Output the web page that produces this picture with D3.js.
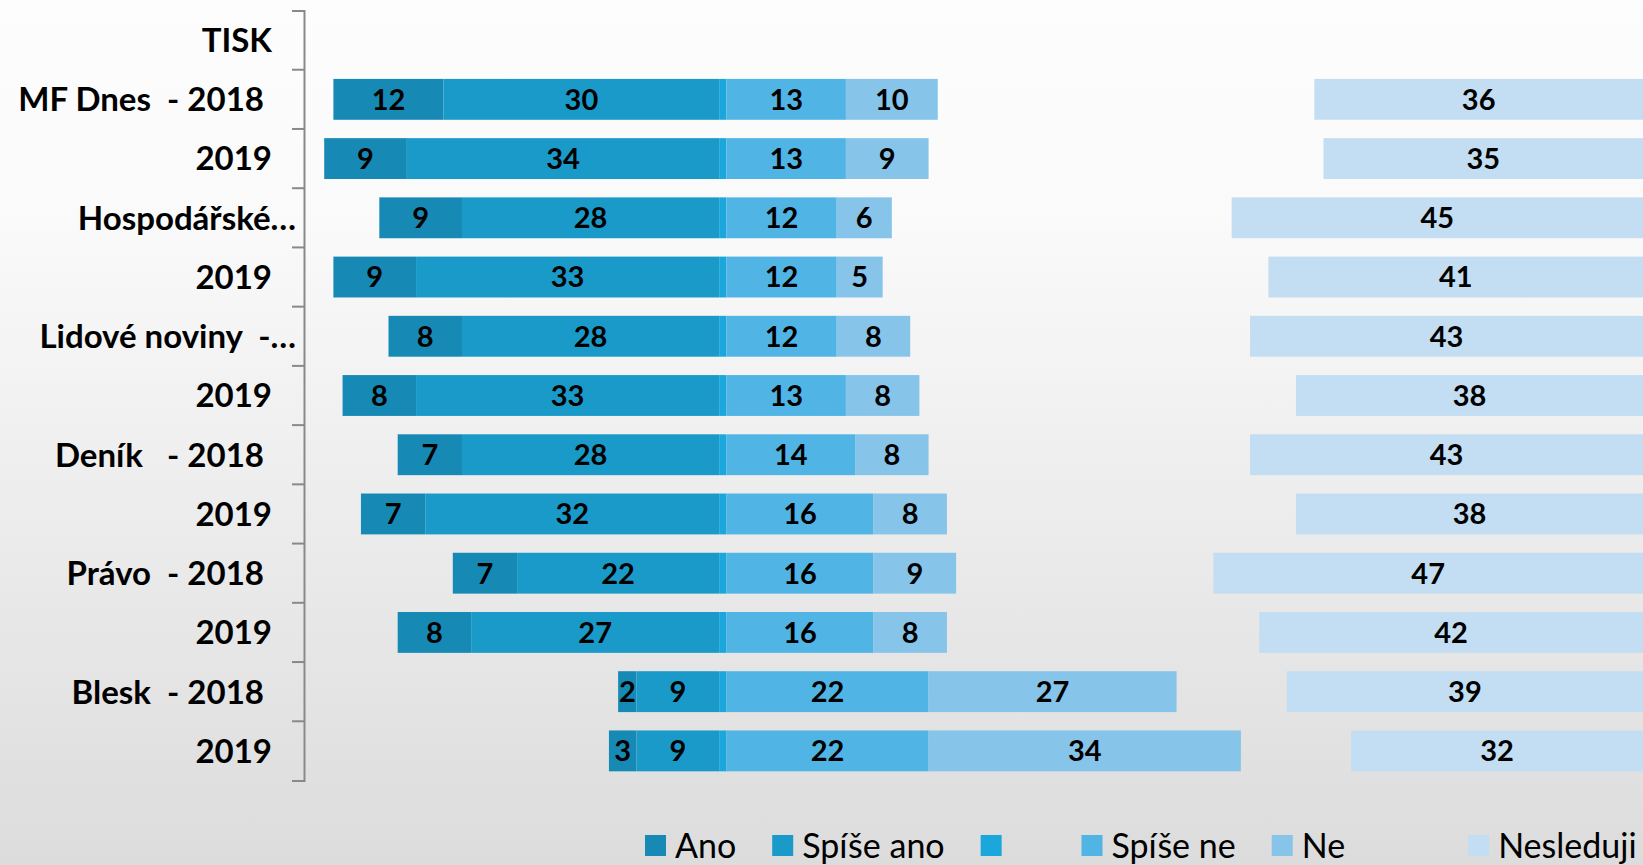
<!DOCTYPE html>
<html>
<head>
<meta charset="utf-8">
<script src="https://cdn.jsdelivr.net/npm/d3@7"></script>
<style>
  html, body { margin: 0; padding: 0; overflow: hidden; }
  text { font-family: Lato, "Open Sans", sans-serif; white-space: pre; }
</style>
</head>
<body>
<div id="chart"></div>
<script>
// row labels (first row is the group header, it has no bars)
const categories = ["TISK   ", "MF Dnes  - 2018    ", "2019   ", "Hospodářské…", "2019   ",
  "Lidové noviny  -…", "2019   ", "Deník   - 2018    ", "2019   ",
  "Právo  - 2018    ", "2019   ", "Blesk  - 2018    ", "2019   "];

// values per data row (MF 2018 ... Blesk 2019)
const ano       = [12, 9, 9, 9, 8, 8, 7, 7, 7, 8, 2, 3];
const spiseAno  = [30, 34, 28, 33, 28, 33, 28, 32, 22, 27, 9, 9];
const stred     = [0.8, 0.8, 0.8, 0.8, 0.8, 0.8, 0.8, 0.8, 0.8, 0.8, 0.8, 0.8];
const spiseNe   = [13, 13, 12, 12, 12, 13, 14, 16, 16, 16, 22, 22];
const ne        = [10, 9, 6, 5, 8, 8, 8, 8, 9, 8, 27, 34];
const nesleduji = [36, 35, 45, 41, 43, 38, 43, 38, 47, 42, 39, 32];

const seriesNames = ["Ano", "Spíše ano", "    ", "Spíše ne", "Ne          ", "Nesleduji"];
const colors = ["#1789b5", "#1a9ac9", "#1ba7dc", "#50b4e5", "#86c4ea", "#c3def2"];

const W = 1643, H = 865;

const svg = d3.select("#chart").append("svg")
  .attr("width", W)
  .attr("height", H);

// background gradient
const grad = svg.append("defs").append("linearGradient")
  .attr("id", "bg").attr("x1", 0).attr("y1", 0).attr("x2", 0).attr("y2", 1);
grad.append("stop").attr("offset", "0%").attr("stop-color", "#fdfdfd");
grad.append("stop").attr("offset", "25%").attr("stop-color", "#fafafa");
grad.append("stop").attr("offset", "100%").attr("stop-color", "#dcdcdc");
svg.append("rect").attr("width", W).attr("height", H).attr("fill", "url(#bg)");

const x = d3.scaleLinear().domain([-46, 100]).range([304, 1645]);
const y = d3.scaleBand().domain(d3.range(categories.length)).range([10.5, 780.5]);
const barH = y.bandwidth() * 0.69;

// build segments
const segs = [];
ano.forEach((a, i) => {
  const row = i + 1;
  const left = a + spiseAno[i] + stred[i];
  const parts = [
    {k: 0, x0: -left, x1: -left + a, v: a},
    {k: 1, x0: -left + a, x1: -stred[i], v: spiseAno[i]},
    {k: 2, x0: -stred[i], x1: 0, v: null},
    {k: 3, x0: 0, x1: spiseNe[i], v: spiseNe[i]},
    {k: 4, x0: spiseNe[i], x1: spiseNe[i] + ne[i], v: ne[i]},
    {k: 5, x0: 100 - nesleduji[i], x1: 100, v: nesleduji[i]}
  ];
  parts.forEach(p => { p.row = row; segs.push(p); });
});

const plot = svg.append("g");

plot.selectAll(".bar")
  .data(segs)
  .enter().append("rect")
  .attr("class", "bar")
  .attr("x", d => x(d.x0))
  .attr("width", d => x(d.x1) - x(d.x0))
  .attr("y", d => y(d.row) + (y.bandwidth() - barH) / 2)
  .attr("height", barH)
  .attr("fill", d => colors[d.k]);

plot.selectAll(".val")
  .data(segs.filter(d => d.v !== null))
  .enter().append("text")
  .attr("class", "val")
  .attr("x", d => (x(d.x0) + Math.min(x(d.x1), W)) / 2)
  .attr("y", d => y(d.row) + y.bandwidth() / 2)
  .attr("dy", "0.36em")
  .attr("text-anchor", "middle")
  .attr("font-size", 29)
  .attr("font-weight", "bold")
  .attr("fill", "#000")
  .text(d => d3.format(".0f")(d.v));

// category axis
const axis = svg.append("g")
  .attr("transform", "translate(" + x.range()[0] + ",0)")
  .call(d3.axisLeft(y).tickValues([]).tickSizeOuter(12));
axis.select(".domain").attr("stroke", "#898989").attr("stroke-width", 2);

svg.append("g").selectAll("line")
  .data(d3.range(1, categories.length))
  .enter().append("line")
  .attr("x1", x.range()[0] - 12)
  .attr("x2", x.range()[0])
  .attr("y1", d => y(d))
  .attr("y2", d => y(d))
  .attr("stroke", "#898989")
  .attr("stroke-width", 2);

svg.append("g").selectAll("text")
  .data(categories)
  .enter().append("text")
  .attr("xml:space", "preserve")
  .attr("x", x.range()[0] - 8)
  .attr("y", (d, i) => y(i) + y.bandwidth() / 2)
  .attr("dy", "0.36em")
  .attr("text-anchor", "end")
  .attr("font-size", 33)
  .attr("font-weight", "bold")
  .attr("fill", "#000")
  .text(d => d);

// legend
const legend = svg.append("g").attr("transform", "translate(645,835)");
let lx = 0;
seriesNames.forEach((name, i) => {
  const g = legend.append("g").attr("transform", "translate(" + lx + ",0)");
  g.append("rect").attr("width", 21).attr("height", 21).attr("fill", colors[i]);
  const t = g.append("text")
    .attr("xml:space", "preserve")
    .attr("x", 30)
    .attr("y", 11)
    .attr("dy", "0.36em")
    .attr("font-size", 34)
    .attr("fill", "#000")
    .text(name);
  lx += 30 + t.node().getComputedTextLength() + 36;
});
</script>
</body>
</html>
